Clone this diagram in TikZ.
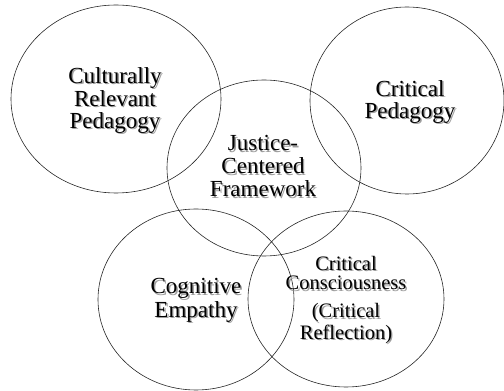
\documentclass[tikz,border=0pt]{standalone}
\usepackage{fontspec}
\usepackage{xcolor}
\setmainfont{Liberation Serif}
\usetikzlibrary{shapes.geometric}
% one line of text with a grey drop shadow beneath it
\newcommand\shd[1]{%
  \makebox[0pt][l]{\hspace{1.4pt}\raisebox{-1.4pt}{\textcolor{black!38}{#1}}}%
  #1}
\begin{document}
\begin{tikzpicture}[x=1pt,y=1pt,
  ring/.style={draw=black!85, line width=0.6pt, shape=ellipse, inner sep=0pt},
  lbl/.style={align=center, inner sep=0pt, font=\fontsize{23}{21.8}\selectfont},
  lblsmall/.style={align=center, inner sep=0pt, font=\fontsize{20.5}{19.5}\selectfont}]
\useasboundingbox (0,0) rectangle (504,391);

% five overlapping circles
\node[ring, minimum width=210, minimum height=188] (crp) at (116,292) {};
\node[ring, minimum width=194, minimum height=187] (cp)  at (407,290.5) {};
\node[ring, minimum width=194, minimum height=176] (jcf) at (264,223) {};
\node[ring, minimum width=196, minimum height=181] (ce)  at (196,91.5) {};
\node[ring, minimum width=196, minimum height=176] (cc)  at (346,92) {};

% labels
\node[lbl] (crpt) at (115,290) {\shd{Culturally}\\\shd{Relevant}\\\shd{Pedagogy}};
\node[lbl] (cpt)  at (410,288.5) {\shd{Critical}\\\shd{Pedagogy}};
\node[lbl, font=\fontsize{23}{23}\selectfont] (jcft) at (263,224) {\shd{Justice-}\\\shd{Centered}\\\shd{Framework}};
\node[lbl] (cet)  at (196,90) {\shd{Cognitive}\\\shd{Empathy}};
\node[lblsmall] (cct) at (346,90.5) {\shd{Critical}\\\shd{Consciousness}\\[8.5pt]\shd{(Critical}\\\shd{Reflection)}};
\end{tikzpicture}
\end{document}
